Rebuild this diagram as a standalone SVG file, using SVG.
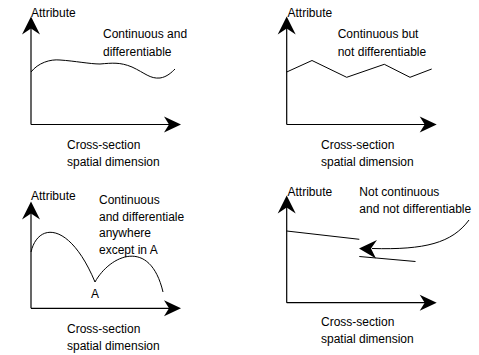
<svg xmlns="http://www.w3.org/2000/svg" width="479" height="355" viewBox="0 0 479 355">
<style>
text{font-family:"Liberation Sans",Arial,sans-serif;font-size:12px;fill:#000}
.ax{stroke:#000;stroke-width:1.2;fill:none}
.cv{stroke:#000;stroke-width:1;fill:none}
.ah{fill:#000;stroke:none}
</style>
<defs>
<path id="up" class="ah" d="M0,0 L9,18 L0,12 L-9,18 Z"/>
<path id="rt" class="ah" d="M0,0 L-17,-8 L-12,0 L-17,8 Z"/>
</defs>
<rect width="479" height="355" fill="#fff"/>

<g id="panel1">
<line class="ax" x1="31" y1="124.5" x2="31" y2="22"/>
<line class="ax" x1="31" y1="124.5" x2="175" y2="124.5"/>
<use href="#up" x="31" y="16.5"/>
<use href="#rt" x="181" y="124.5"/>
<text x="31" y="17">Attribute</text>
<text x="103" y="37.5">Continuous and</text>
<text x="103" y="55.5">differentiable</text>
<path class="cv" d="M31,72 C38,63 50,59 60,60 C75,61 90,64 100,64 C112,63 120,62 132,67 C145,73 150,79 160,78 C167,77 172,72 175,69"/>
<text x="67" y="149">Cross-section</text>
<text x="67" y="166">spatial dimension</text>
</g>

<g id="panel2">
<line class="ax" x1="286.7" y1="124.5" x2="286.7" y2="22"/>
<line class="ax" x1="286.7" y1="124.5" x2="431" y2="124.5"/>
<use href="#up" x="286.7" y="16.5"/>
<use href="#rt" x="436.7" y="124.5"/>
<text x="287.5" y="17">Attribute</text>
<text x="337.7" y="37.5">Continuous but</text>
<text x="337.7" y="55.5">not differentiable</text>
<polyline class="cv" points="286.7,72 312,60.5 346.7,77.3 384.3,64.3 410,77.3 431.7,69"/>
<text x="321" y="149">Cross-section</text>
<text x="321" y="166">spatial dimension</text>
</g>

<g id="panel3">
<line class="ax" x1="31" y1="308.3" x2="31" y2="207"/>
<line class="ax" x1="31" y1="308.3" x2="175" y2="308.3"/>
<use href="#up" x="31" y="201.5"/>
<use href="#rt" x="181" y="308.3"/>
<text x="31" y="200">Attribute</text>
<text x="99" y="204">Continuous</text>
<text x="99" y="220.5">and differentiale</text>
<text x="99" y="237">anywhere</text>
<text x="99" y="253.5">except in A</text>
<path class="cv" d="M31,252 C38,222 70,222 95,282 C110,255 150,237 163,292"/>
<text x="95" y="298" text-anchor="middle">A</text>
<text x="67" y="333">Cross-section</text>
<text x="67" y="350">spatial dimension</text>
</g>

<g id="panel4">
<line class="ax" x1="286.7" y1="302.7" x2="286.7" y2="201"/>
<line class="ax" x1="286.7" y1="302.7" x2="431" y2="302.7"/>
<use href="#up" x="286.7" y="195.5"/>
<use href="#rt" x="436.7" y="302.7"/>
<text x="287.5" y="196">Attribute</text>
<text x="359.3" y="196">Not continuous</text>
<text x="359.3" y="213">and not differentiable</text>
<line class="cv" x1="286.7" y1="231" x2="359.3" y2="239.3"/>
<line class="cv" x1="359.3" y1="256.5" x2="415.5" y2="261.5"/>
<text x="321" y="326">Cross-section</text>
<text x="321" y="342.5">spatial dimension</text>
</g>

<g id="connectors">
<path class="cv" d="M469,220 C452,243 425,250 372,248.5"/>
<path class="ah" d="M359,248.5 L377,240 L371,248.5 L376,258.5 Z"/>
</g>
</svg>
